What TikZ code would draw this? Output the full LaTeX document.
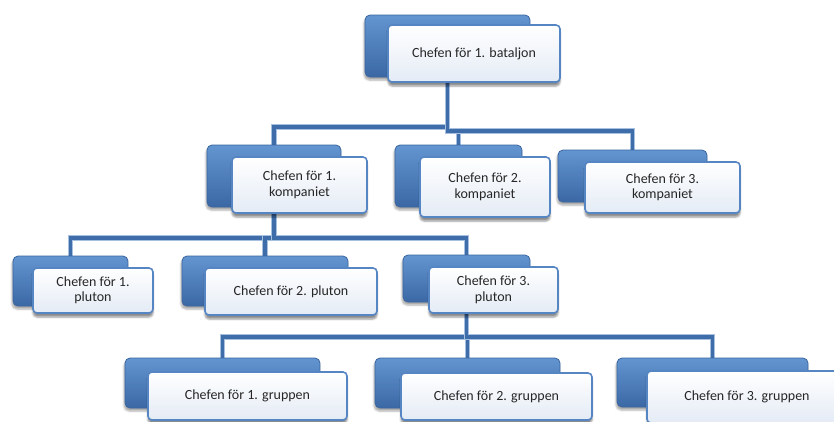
\documentclass[tikz,border=0pt]{standalone}
\usepackage{fontspec}
\setmainfont{Carlito}
\usepackage{tikz}
\usetikzlibrary{shapes,shadows,shadows.blur,backgrounds}
\definecolor{backtop}{HTML}{6395D1}
\definecolor{backbot}{HTML}{3B68A4}
\definecolor{backedge}{HTML}{3A659F}
\definecolor{frontedge}{HTML}{5585C2}
\definecolor{frontbot}{HTML}{E4EBF5}
\definecolor{linecol}{HTML}{3F6DA9}
\definecolor{linelight}{HTML}{A7C0E0}
\definecolor{txt}{HTML}{262626}
\tikzstyle{backbox} = [rectangle, rounded corners=5pt, inner sep=0pt, top color=backtop, bottom color=backbot, draw=backedge, line width=0.8pt, blur shadow={shadow xshift=-1pt, shadow yshift=-3pt, shadow opacity=35}]
\tikzstyle{chief} = [rectangle, rounded corners=4pt, inner sep=0pt, top color=white, bottom color=frontbot, draw=frontedge, line width=1.6pt, align=center, text=txt, font=\fontsize{14}{15.5}\selectfont, blur shadow={shadow xshift=0pt, shadow yshift=-4pt, shadow opacity=45}]
\tikzstyle{conn} = [line width=3.5pt, draw=linecol, preaction={draw=linelight, line width=5.5pt}]

\begin{document}
\begin{tikzpicture}[x=1pt, y=-1pt]
                \useasboundingbox (0,0) rectangle (834,421);
                \clip (0,0) rectangle (834,421);
                % bataljon
                \node (batb) [backbox, minimum width=165, minimum height=62] at (447.5,46) {};
                \node (bat) [chief, minimum width=172, minimum height=57] at (474,53.5) {Chefen för 1. bataljon};
                % kompanier
                \node (komp1b) [backbox, minimum width=134, minimum height=62] at (274,176) {};
                \node (komp1) [chief, minimum width=135, minimum height=56] at (299.5,185) {Chefen för 1.\\kompaniet};
                \node (komp2b) [backbox, minimum width=127, minimum height=62] at (458.5,176) {};
                \node (komp2) [chief, minimum width=130, minimum height=60] at (485,187) {Chefen för 2.\\kompaniet};
                \node (komp3b) [backbox, minimum width=149, minimum height=52] at (632.5,176) {};
                \node (komp3) [chief, minimum width=155, minimum height=51] at (662.5,187.5) {Chefen för 3.\\kompaniet};
                % plutoner
                \node (plut1b) [backbox, minimum width=115, minimum height=50] at (70.5,281) {};
                \node (plut1) [chief, minimum width=120, minimum height=45] at (93,290.5) {Chefen för 1.\\pluton};
                \node (plut2b) [backbox, minimum width=166, minimum height=50] at (265,281) {};
                \node (plut2) [chief, minimum width=172, minimum height=47] at (291,291.5) {Chefen för 2. pluton};
                \node (plut3b) [backbox, minimum width=127, minimum height=47] at (466.5,278.5) {};
                \node (plut3) [chief, minimum width=129, minimum height=46] at (493.5,290) {Chefen för 3.\\pluton};
                % grupper
                \node (grp1b) [backbox, minimum width=195, minimum height=50] at (222.5,383) {};
                \node (grp1) [chief, minimum width=199, minimum height=48] at (247.5,396) {Chefen för 1. gruppen};
                \node (grp2b) [backbox, minimum width=185, minimum height=50] at (467.5,383) {};
                \node (grp2) [chief, minimum width=191, minimum height=47] at (496.5,396.5) {Chefen för 2. gruppen};
                \node (grp3b) [backbox, minimum width=191, minimum height=49] at (712.5,382.5) {};
                \node (grp3) [chief, minimum width=200, minimum height=52] at (747,397) {Chefen för 3. gruppen};
                % bars
                \coordinate (bar1) at (0,127);
                \coordinate (bar2) at (0,131);
                \coordinate (bar3) at (0,238);
                \coordinate (bar4) at (0,337);
                \begin{pgfonlayer}{background}
                \draw [conn] (batb.center) -- (batb.center |- bar1) -| (komp1b.center);
                \draw [conn] (batb.center) -- (batb.center |- bar2) -| (komp2b.center);
                \draw [conn] (batb.center) -- (batb.center |- bar2) -| (komp3b.center);
                \draw [conn] (komp1b.center) -- (komp1b.center |- bar3) -| (plut1b.center);
                \draw [conn] (komp1b.center) -- (komp1b.center |- bar3) -| (plut2b.center);
                \draw [conn] (komp1b.center) -- (komp1b.center |- bar3) -| (plut3b.center);
                \draw [conn] (plut3b.center) -- (plut3b.center |- bar4) -| (grp1b.center);
                \draw [conn] (plut3b.center) -- (plut3b.center |- bar4) -| (grp2b.center);
                \draw [conn] (plut3b.center) -- (plut3b.center |- bar4) -| (grp3b.center);
                \end{pgfonlayer}
            \end{tikzpicture}
\end{document}
